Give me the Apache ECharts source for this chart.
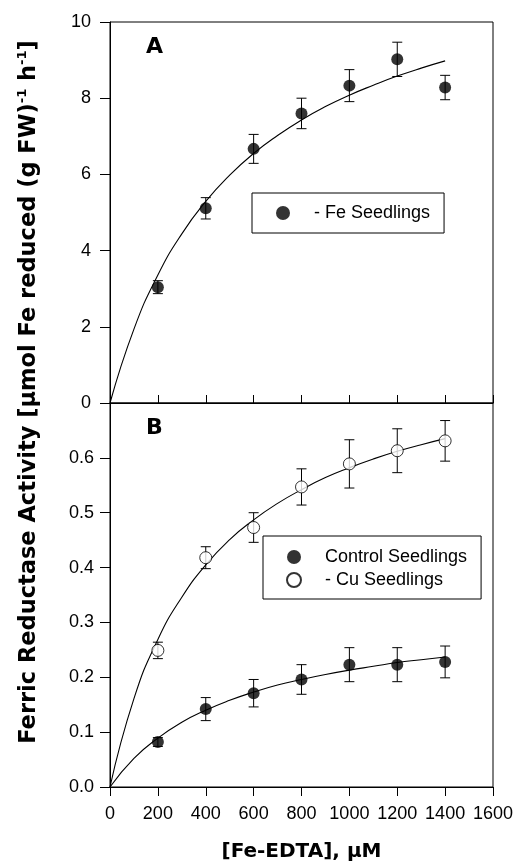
<!DOCTYPE html>
<html>
<head>
<meta charset="utf-8">
<script src="https://cdn.jsdelivr.net/npm/echarts@6/dist/echarts.min.js"></script>
<style>
  html, body { margin: 0; padding: 0; background: #fff; }
  #chart { width: 517px; height: 866px; }
</style>
</head>
<body>
<div id="chart"></div>
<script>
// measured doses (µM Fe-EDTA)
const doses = [200, 400, 600, 800, 1000, 1200, 1400];

// panel A: -Fe seedlings
const feMinus = [3.04, 5.11, 6.67, 7.60, 8.33, 9.02, 8.28];
const feMinusErr = [0.17, 0.28, 0.38, 0.40, 0.42, 0.45, 0.32];

// panel B: control and -Cu seedlings
const control = [0.082, 0.142, 0.171, 0.196, 0.223, 0.223, 0.228];
const controlErr = [0.008, 0.021, 0.025, 0.027, 0.031, 0.031, 0.029];
const cuMinus = [0.249, 0.418, 0.473, 0.547, 0.589, 0.613, 0.631];
const cuMinusErr = [0.015, 0.020, 0.027, 0.033, 0.044, 0.040, 0.037];

// fitted curves, every 100 µM
const fitX = [0, 100, 200, 300, 400, 500, 600, 700, 800, 900, 1000, 1100, 1200, 1300, 1400];
const feMinusFit = [0, 1.94, 3.36, 4.44, 5.29, 5.98, 6.55, 7.02, 7.43, 7.78, 8.08, 8.34, 8.58, 8.79, 8.98];
const controlFit = [0, 0.052, 0.089, 0.118, 0.140, 0.158, 0.173, 0.186, 0.196, 0.205, 0.213, 0.220, 0.227, 0.232, 0.237];
const cuMinusFit = [0, 0.161, 0.269, 0.346, 0.405, 0.451, 0.487, 0.517, 0.542, 0.564, 0.582, 0.598, 0.612, 0.624, 0.635];

const xTicks = [0, 1600, 200];
const yTicksA = [0, 10, 2];
const yTicksB = [0, 0.7, 0.1];

const tickFont = { fontFamily: 'Liberation Sans', fontSize: 18, color: '#000' };
const boldFont = 'DejaVu Sans';
const black = { color: '#000', width: 1 };

const pairs = (xs, ys) => xs.map((x, i) => [x, ys[i]]);
const errData = (vals, errs) => doses.map((x, i) => [x, vals[i] - errs[i], vals[i] + errs[i]]);

function errorBars(gridIdx, vals, errs) {
  return {
    type: 'custom',
    xAxisIndex: gridIdx,
    yAxisIndex: gridIdx,
    z: 2,
    silent: true,
    encode: { x: 0, y: [1, 2] },
    data: errData(vals, errs),
    renderItem: (params, api) => {
      const x = api.value(0);
      const lo = api.coord([x, api.value(1)]);
      const hi = api.coord([x, api.value(2)]);
      const cap = 5;
      const style = { stroke: '#000', lineWidth: 1 };
      return {
        type: 'group',
        children: [
          { type: 'line', shape: { x1: lo[0], y1: lo[1], x2: hi[0], y2: hi[1] }, style },
          { type: 'line', shape: { x1: hi[0] - cap, y1: hi[1], x2: hi[0] + cap, y2: hi[1] }, style },
          { type: 'line', shape: { x1: lo[0] - cap, y1: lo[1], x2: lo[0] + cap, y2: lo[1] }, style },
        ],
      };
    },
  };
}

function fitLine(gridIdx, ys) {
  return {
    type: 'line',
    xAxisIndex: gridIdx,
    yAxisIndex: gridIdx,
    z: 3,
    silent: true,
    smooth: true,
    showSymbol: false,
    lineStyle: { color: '#000', width: 1.1 },
    data: pairs(fitX, ys),
  };
}

function points(gridIdx, name, ys, open) {
  return {
    name,
    type: 'scatter',
    xAxisIndex: gridIdx,
    yAxisIndex: gridIdx,
    z: 4,
    symbol: 'circle',
    symbolSize: 12,
    itemStyle: open
      ? { color: '#fff', borderColor: '#000', borderWidth: 1 }
      : { color: '#000', borderColor: '#000', borderWidth: 0 },
    data: pairs(doses, ys),
  };
}

const legendBase = {
  orient: 'vertical',
  borderColor: '#000',
  borderWidth: 1,
  backgroundColor: '#fff',
  itemWidth: 14,
  itemHeight: 14,
  selectedMode: false,
  textStyle: { fontFamily: 'Liberation Sans', fontSize: 18, color: '#000', padding: [0, 0, 0, 19], lineHeight: 18 },
};

const chart = echarts.init(document.getElementById('chart'), null, { renderer: 'canvas' });

chart.setOption({
  animation: false,
  backgroundColor: '#fff',
  grid: [
    { left: 110, right: 24, top: 22, height: 381, show: true, borderColor: '#000', borderWidth: 1 },
    { left: 110, right: 24, top: 403, height: 384, show: true, borderColor: '#000', borderWidth: 1 },
  ],
  xAxis: [
    {
      gridIndex: 0, type: 'value', min: xTicks[0], max: xTicks[1], interval: xTicks[2],
      axisLine: { lineStyle: black },
      axisTick: { inside: true, length: 8, lineStyle: black },
      axisLabel: { show: false },
      splitLine: { show: false },
    },
    {
      gridIndex: 1, type: 'value', min: xTicks[0], max: xTicks[1], interval: xTicks[2],
      axisLine: { lineStyle: black },
      axisTick: { length: 9, lineStyle: black },
      axisLabel: { ...tickFont, margin: 18, formatter: (v) => String(v) },
      splitLine: { show: false },
      name: '[Fe-EDTA], μM',
      nameLocation: 'middle',
      nameGap: 55,
      nameTextStyle: { fontFamily: boldFont, fontWeight: 'bold', fontSize: 20, color: '#000' },
    },
  ],
  yAxis: [
    {
      gridIndex: 0, type: 'value', min: yTicksA[0], max: yTicksA[1], interval: yTicksA[2],
      axisLine: { show: true, lineStyle: black },
      axisTick: { show: true, length: 10, lineStyle: black },
      axisLabel: { ...tickFont, margin: 19 },
      splitLine: { show: false },
    },
    {
      gridIndex: 1, type: 'value', min: yTicksB[0], max: yTicksB[1], interval: yTicksB[2],
      axisLine: { show: true, lineStyle: black },
      axisTick: { show: true, length: 10, lineStyle: black },
      axisLabel: { ...tickFont, margin: 16, formatter: (v) => (v > 0.65 ? '' : v.toFixed(1)) },
      splitLine: { show: false },
    },
  ],
  legend: [
    { ...legendBase, left: 252, top: 193, padding: [11, 14, 11, 24], data: ['- Fe Seedlings'] },
    { ...legendBase, left: 263, top: 536, padding: [12, 14, 10, 23], itemGap: 5, data: ['Control Seedlings', '- Cu Seedlings'] },
  ],
  graphic: [
    {
      type: 'text', left: 146, top: 36,
      style: { text: 'A', font: 'bold 22px "DejaVu Sans"', fill: '#000' },
    },
    {
      type: 'text', left: 146, top: 417,
      style: { text: 'B', font: 'bold 22px "DejaVu Sans"', fill: '#000' },
    },
    {
      type: 'text',
      x: 29, y: 392,
      rotation: Math.PI / 2,
      style: {
        text: '{b|Ferric Reductase Activity [μmol Fe reduced (g FW)}{s|-1}{b| h}{s|-1}{b|]}',
        align: 'center',
        verticalAlign: 'middle',
        fill: '#000',
        rich: {
          b: { fontFamily: boldFont, fontWeight: 'bold', fontSize: 22.5, lineHeight: 26 },
          s: { fontFamily: boldFont, fontWeight: 'bold', fontSize: 13, verticalAlign: 'top', lineHeight: 14 },
        },
      },
    },
  ],
  series: [
    errorBars(0, feMinus, feMinusErr),
    fitLine(0, feMinusFit),
    points(0, '- Fe Seedlings', feMinus, false),
    errorBars(1, control, controlErr),
    errorBars(1, cuMinus, cuMinusErr),
    fitLine(1, controlFit),
    fitLine(1, cuMinusFit),
    points(1, 'Control Seedlings', control, false),
    points(1, '- Cu Seedlings', cuMinus, true),
  ],
});
</script>
</body>
</html>
